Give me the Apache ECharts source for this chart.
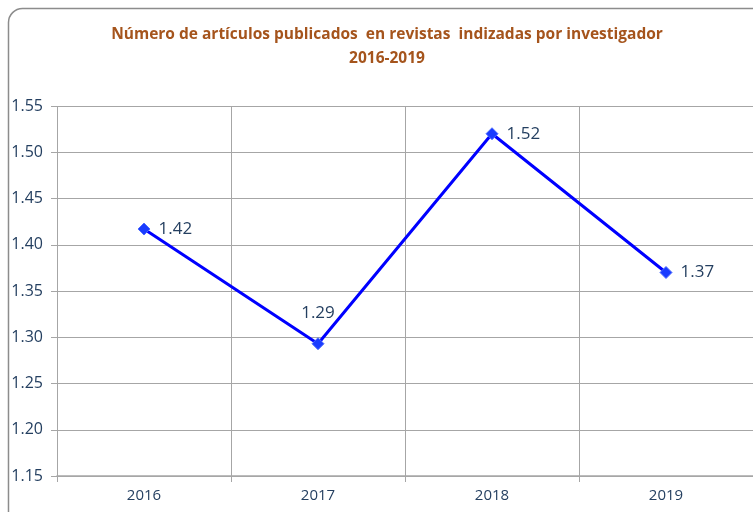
<!DOCTYPE html>
<html>
<head>
<meta charset="utf-8">
<script src="https://cdn.jsdelivr.net/npm/echarts@6/dist/echarts.min.js"></script>
<style>
  html, body { margin: 0; padding: 0; background: #fff; }
  #chart { width: 753px; height: 512px; }
</style>
</head>
<body>
<div id="chart"></div>
<script>
var years = ['2016', '2017', '2018', '2019'];
var articles = [1.417, 1.293, 1.520, 1.370];
var labelPos = ['right', 'top', 'right', 'right'];

var chartDom = document.getElementById('chart');
var myChart = echarts.init(chartDom);

var option;

option = {
    animation: false,
    textStyle: {
        fontFamily: 'Open Sans'
    },
    graphic: [
        {
            type: 'rect',
            shape: {x: 8.5, y: 8.5, width: 780, height: 540, r: 14},
            style: {fill: 'none', stroke: '#8c8c8c', lineWidth: 1.5},
            silent: true
        }
    ],
    title: {
        text: 'Número de artículos publicados  en revistas  indizadas por investigador',
        subtext: '2016-2019',
        left: 382,
        textAlign: 'center',
        top: 22,
        itemGap: 8,
        textStyle: {
            color: '#A5541C',
            fontSize: 15.5,
            fontWeight: 'bold'
        },
        subtextStyle: {
            color: '#A5541C',
            fontSize: 15.5,
            fontWeight: 'bold'
        }
    },
    grid: {
        left: 57,
        right: 0,
        top: 106,
        bottom: 36
    },
    xAxis: {
        type: 'category',
        data: years,
        boundaryGap: true,
        axisLine: {
            lineStyle: {color: '#a6a6a6', width: 1.5}
        },
        axisTick: {
            show: true,
            length: 6,
            lineStyle: {color: '#a6a6a6'}
        },
        axisLabel: {
            color: '#243F60',
            fontSize: 15,
            margin: 12
        },
        splitLine: {
            show: true,
            lineStyle: {color: '#a6a6a6'}
        }
    },
    yAxis: {
        type: 'value',
        min: 1.15,
        max: 1.55,
        interval: 0.05,
        axisLine: {show: false},
        axisTick: {
            show: true,
            length: 6,
            lineStyle: {color: '#a6a6a6'}
        },
        axisLabel: {
            color: '#243F60',
            fontSize: 16,
            margin: 14,
            formatter: function (v) { return v.toFixed(2); }
        },
        splitLine: {
            lineStyle: {color: '#a6a6a6'}
        }
    },
    series: [
        {
            type: 'line',
            data: articles.map(function (v, i) {
                return {
                    value: v,
                    label: {position: labelPos[i], distance: labelPos[i] === 'top' ? 16 : 8}
                };
            }),
            symbol: 'diamond',
            symbolSize: 12,
            lineStyle: {color: '#0000FF', width: 3},
            itemStyle: {color: '#1a3cff', borderColor: '#4d6bff', borderWidth: 1},
            label: {
                show: true,
                color: '#243F60',
                fontSize: 17,
                formatter: function (p) { return p.value.toFixed(2); }
            }
        }
    ]
};

myChart.setOption(option);
</script>
</body>
</html>
